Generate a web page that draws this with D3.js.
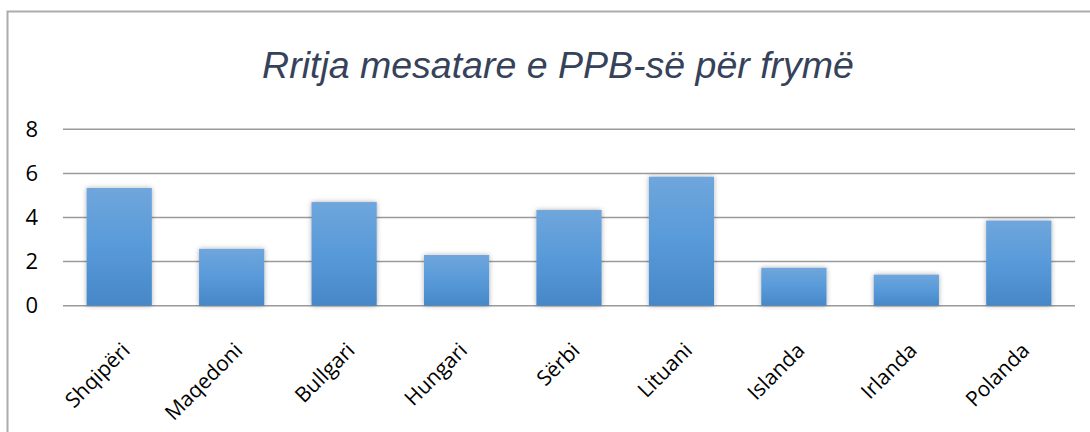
<!DOCTYPE html>
<html>
<head>
<meta charset="utf-8">
<script src="https://cdn.jsdelivr.net/npm/d3@7/dist/d3.min.js"></script>
<style>
  html, body { margin: 0; padding: 0; background: #fff; }
  svg { display: block; }
</style>
</head>
<body>
<svg id="chart" width="1090" height="432"></svg>
<script>
// Average GDP per capita growth by country
const categories = ["Shqipëri", "Maqedoni", "Bullgari", "Hungari", "Sërbi", "Lituani", "Islanda", "Irlanda", "Polanda"];
const values = [5.34, 2.58, 4.70, 2.30, 4.34, 5.85, 1.72, 1.41, 3.86];
const yTicks = [0, 2, 4, 6, 8];
const title = "Rritja mesatare e PPB-së për frymë";

const W = 1090, H = 432;
const plot = { left: 63, right: 1075, top: 129.3, bottom: 305.7 };

const svg = d3.select("#chart");

// gradient fill and soft shadow for the bars
const defs = svg.append("defs");
const grad = defs.append("linearGradient")
  .attr("id", "barFill").attr("x1", 0).attr("y1", 0).attr("x2", 0).attr("y2", 1);
grad.append("stop").attr("offset", "0%").attr("stop-color", "#6fa6dc");
grad.append("stop").attr("offset", "50%").attr("stop-color", "#589ad9");
grad.append("stop").attr("offset", "100%").attr("stop-color", "#4787c7");

const shadow = defs.append("filter").attr("id", "barShadow")
  .attr("x", "-30%").attr("y", "-30%").attr("width", "160%").attr("height", "160%");
shadow.append("feDropShadow")
  .attr("dx", 0).attr("dy", 0).attr("stdDeviation", 2.6)
  .attr("flood-color", "#000").attr("flood-opacity", 0.32);

// chart frame
svg.append("rect")
  .attr("x", 7.5).attr("y", 11.5).attr("width", W + 20).attr("height", H + 20)
  .attr("fill", "#fff").attr("stroke", "#acacac").attr("stroke-width", 2);

// title
svg.append("text")
  .attr("x", 558).attr("y", 78)
  .attr("text-anchor", "middle")
  .attr("font-family", "'Liberation Sans', Arial, sans-serif")
  .attr("font-style", "italic")
  .attr("font-size", 37.5)
  .attr("fill", "#36425a")
  .text(title);

const x = d3.scaleBand()
  .domain(categories)
  .range([plot.left, plot.right])
  .paddingInner(0.42)
  .paddingOuter(0.21);

const y = d3.scaleLinear()
  .domain([0, 8])
  .range([plot.bottom, plot.top]);

// horizontal gridlines
svg.append("g")
  .selectAll("line")
  .data(yTicks)
  .join("line")
  .attr("x1", plot.left).attr("x2", plot.right)
  .attr("y1", d => y(d)).attr("y2", d => y(d))
  .attr("stroke", "#9a9a9a").attr("stroke-width", 1.5);

// y axis labels
const yAxis = d3.axisLeft(y).tickValues(yTicks).tickSize(0).tickPadding(0).tickFormat(d3.format("d"));
const yG = svg.append("g")
  .attr("transform", `translate(38,0)`)
  .call(yAxis);
yG.select(".domain").remove();
yG.selectAll("text")
  .attr("font-family", "'Open Sans', 'Noto Sans', sans-serif")
  .attr("font-size", 22)
  .attr("fill", "#000");

// bars
svg.append("g")
  .selectAll("rect")
  .data(categories.map((c, i) => ({ c, v: values[i] })))
  .join("rect")
  .attr("x", d => x(d.c))
  .attr("y", d => y(d.v))
  .attr("width", x.bandwidth())
  .attr("height", d => y(0) - y(d.v))
  .attr("fill", "url(#barFill)")
  .attr("filter", "url(#barShadow)");

// rotated category labels
const xAxis = d3.axisBottom(x).tickSize(0).tickPadding(0);
const xG = svg.append("g")
  .attr("transform", `translate(0,${plot.bottom})`)
  .call(xAxis);
xG.select(".domain").remove();
xG.selectAll("text")
  .attr("font-family", "'Open Sans', 'Noto Sans', sans-serif")
  .attr("font-size", 21)
  .attr("fill", "#000")
  .attr("text-anchor", "end")
  .attr("dy", 0)
  .attr("y", 0)
  .attr("transform", "translate(12,46) rotate(-45)");
</script>
</body>
</html>
